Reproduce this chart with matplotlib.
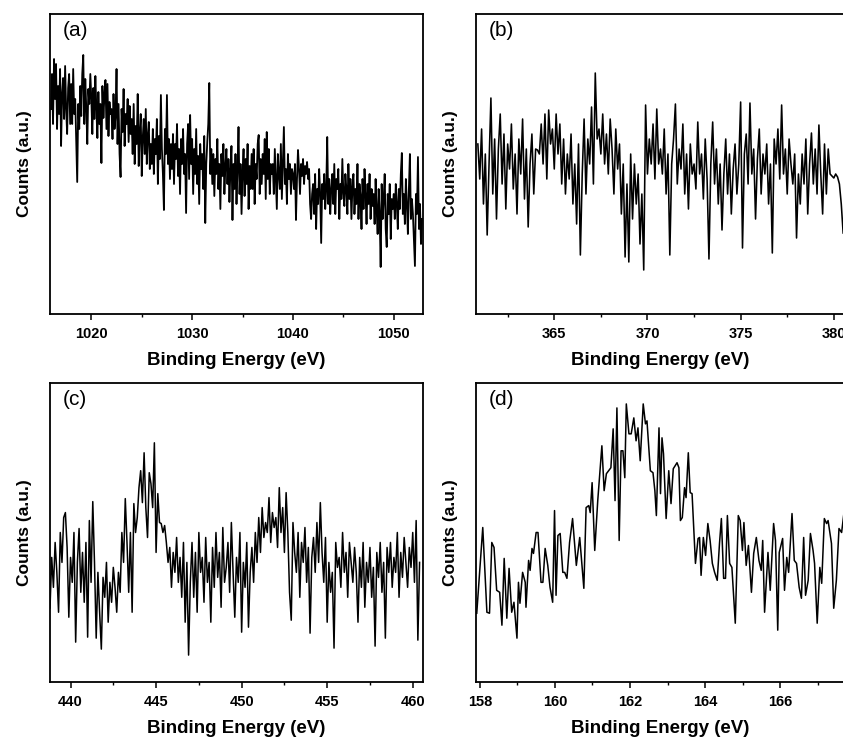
import numpy as np
import matplotlib
matplotlib.use('Agg')
import matplotlib.pyplot as plt
from matplotlib.ticker import MultipleLocator

plt.rcParams['font.family'] = ['Liberation Sans', 'DejaVu Sans']

# (a) 1016.0 -> 1052.8 eV, step 0.1
a_start, a_step = 1016.0, 0.1
a_counts = [
    205, 240, 190, 255, 215, 250, 185, 228, 200, 245, 168, 220, 236, 195, 248, 205, 180, 226, 240, 190,
    230, 190, 245, 200, 215, 175, 132, 210, 185, 228, 198, 240, 259, 190, 235, 205, 170, 225, 210, 240,
    215, 180, 226, 195, 238, 205, 176, 222, 190, 210, 151, 228, 196, 218, 234, 185, 230, 178, 212, 200,
    205, 175, 220, 185, 198, 245, 170, 210, 160, 137, 205, 182, 225, 168, 200, 190, 215, 172, 208, 180,
    195, 160, 210, 150, 188, 170, 220, 148, 182, 200, 138, 176, 195, 160, 205, 150, 178, 192, 145, 170,
    150, 185, 140, 175, 160, 195, 130, 178, 155, 219, 165, 140, 104, 185, 160, 219, 150, 175, 135, 170,
    145, 180, 130, 170, 155, 190, 138, 165, 120, 175, 150, 185, 140, 160, 101, 170, 190, 135, 199, 150,
    175, 120, 165, 140, 185, 130, 158, 110, 170, 145, 160, 125, 178, 91, 150, 172, 190, 231, 140, 165,
    130, 160, 118, 155, 140, 175, 125, 150, 105, 160, 138, 170, 120, 148, 165, 130, 155, 112, 145, 168,
    94, 150, 125, 160, 110, 145, 187, 120, 150, 100, 140, 165, 118, 155, 130, 170, 105, 148, 125, 160,
    125, 165, 110, 150, 135, 170, 179, 120, 155, 130, 160, 140, 175, 115, 182, 135, 165, 120, 150, 140,
    150, 120, 165, 135, 105, 160, 140, 125, 170, 115, 150, 187, 130, 145, 110, 160, 135, 150, 120, 145,
    140, 125, 150, 94, 135, 164, 145, 120, 150, 138, 155, 130, 148, 140, 152, 135, 145, 110, 95, 120,
    130, 100, 140, 85, 125, 110, 145, 120, 71, 130, 115, 140, 105, 125, 177, 110, 135, 100, 125, 140,
    110, 150, 100, 135, 125, 145, 95, 130, 115, 155, 120, 108, 140, 125, 100, 150, 115, 135, 95, 128,
    140, 100, 125, 110, 150, 95, 130, 118, 85, 135, 105, 145, 120, 90, 130, 110, 140, 95, 125, 108,
    120, 90, 135, 105, 80, 125, 100, 47, 130, 95, 115, 140, 85, 67, 120, 100, 130, 75, 115, 105,
    120, 95, 130, 110, 85, 125, 105, 140, 161, 100, 120, 90, 135, 110, 80, 125, 160, 95, 115, 100,
    75, 48, 120, 100, 157, 85, 110, 70, 95,
]

# (b) 360.9 -> 380.5 eV, step 0.1
b_start, b_step = 360.9, 0.1
b_counts = [
    170, 135, 185, 110, 160, 79, 150, 216, 120, 175, 95, 165, 200, 130, 180, 105, 170, 145, 190, 125,
    160, 100, 175, 140, 195, 115, 165, 87, 150, 180, 120, 165, 164, 160, 190, 150, 200, 135, 204, 170,
    185, 145, 200, 160, 190, 130, 175, 120, 160, 135, 180, 110, 150, 90, 170, 59, 140, 195, 120, 175,
    150, 207, 130, 241, 175, 185, 160, 200, 150, 180, 140, 195, 165, 120, 185, 145, 170, 100, 150, 57,
    130, 52, 160, 95, 150, 110, 140, 70, 120, 44, 209, 140, 175, 150, 190, 135, 205, 150, 165, 140,
    185, 120, 160, 59, 150, 175, 210, 130, 165, 145, 190, 120, 160, 105, 170, 140, 150, 125, 192, 140,
    160, 115, 175, 135, 55, 150, 192, 130, 165, 110, 150, 84, 140, 175, 120, 160, 100, 145, 170, 120,
    150, 212, 66, 160, 180, 130, 211, 140, 165, 95, 155, 185, 120, 160, 140, 170, 110, 150, 61, 175,
    150, 185, 135, 209, 140, 165, 120, 175, 150, 130, 160, 76, 140, 110, 160, 130, 175, 100, 150, 181,
    130, 165, 120, 189, 140, 100, 170, 120, 165, 140, 138, 136, 140, 137, 130, 110, 81,
]

# (c) 438.7 -> 460.4 eV, step 0.1
c_start, c_step = 438.7, 0.1
c_counts = [
    155, 74, 125, 95, 140, 110, 70, 150, 120, 165, 170, 135, 65, 125, 100, 150, 40, 120, 154, 90,
    130, 80, 140, 45, 162, 100, 181, 120, 44, 110, 70, 33, 105, 85, 120, 60, 100, 80, 115, 95,
    70, 110, 90, 150, 120, 184, 140, 90, 150, 70, 179, 150, 165, 195, 212, 180, 230, 175, 145, 210,
    199, 175, 240, 130, 189, 160, 159, 150, 157, 140, 120, 135, 95, 130, 110, 145, 100, 125, 85, 140,
    60, 120, 27, 100, 140, 85, 130, 70, 150, 110, 125, 80, 145, 100, 120, 60, 135, 95, 150, 105,
    130, 75, 155, 100, 115, 140, 90, 160, 110, 65, 125, 100, 150, 50, 120, 95, 140, 55, 110, 135,
    100, 150, 120, 165, 130, 175, 145, 160, 150, 185, 140, 170, 155, 165, 135, 195, 150, 175, 130, 190,
    150, 90, 62, 160, 130, 110, 150, 85, 140, 120, 155, 100, 135, 49, 125, 145, 110, 160, 120, 180,
    130, 100, 145, 60, 120, 90, 110, 34, 140, 115, 125, 95, 150, 110, 130, 85, 140, 120, 100, 135,
    110, 60, 125, 95, 140, 75, 120, 100, 135, 85, 115, 36, 130, 105, 140, 90, 120, 44, 135, 110,
    140, 95, 125, 110, 150, 85, 130, 105, 145, 120, 95, 135, 115, 150, 100, 162, 42, 120,
]

# (d) read point by point
d_energy = [
    157.92, 158.08, 158.19, 158.26, 158.32, 158.38, 158.45, 158.53, 158.59, 158.65,
    158.72, 158.78, 158.85, 158.91, 158.99, 159.03, 159.07, 159.14, 159.21, 159.23,
    159.30, 159.34, 159.39, 159.43, 159.50, 159.55, 159.63, 159.68, 159.74, 159.81,
    159.87, 159.94, 159.99, 160.03, 160.08, 160.14, 160.21, 160.26, 160.32, 160.39,
    160.47, 160.57, 160.66, 160.77, 160.83, 160.90, 160.94, 160.99, 161.06, 161.14,
    161.25, 161.31, 161.37, 161.43, 161.49, 161.55, 161.60, 161.65, 161.71, 161.76,
    161.81, 161.86, 161.90, 161.97, 162.03, 162.10, 162.16, 162.21, 162.27, 162.35,
    162.41, 162.45, 162.54, 162.61, 162.66, 162.70, 162.77, 162.81, 162.85, 162.89,
    162.96, 163.03, 163.09, 163.15, 163.25, 163.30, 163.34, 163.39, 163.45, 163.49,
    163.55, 163.60, 163.65, 163.74, 163.81, 163.85, 163.89, 163.95, 164.01, 164.07,
    164.13, 164.19, 164.25, 164.32, 164.38, 164.43, 164.49, 164.54, 164.59, 164.65,
    164.71, 164.80, 164.88, 164.93, 164.99, 165.03, 165.09, 165.15, 165.23, 165.29,
    165.36, 165.43, 165.49, 165.53, 165.58, 165.67, 165.73, 165.82, 165.87, 165.93,
    165.97, 166.06, 166.11, 166.17, 166.22, 166.31, 166.37, 166.43, 166.50, 166.56,
    166.62, 166.67, 166.74, 166.80, 166.87, 166.91, 166.98, 167.05, 167.10, 167.17,
    167.23, 167.27, 167.36, 167.42, 167.49, 167.56, 167.63, 167.69,
]
d_counts = [
    69, 155, 70, 69, 140, 135, 92, 90, 57, 124,
    64, 114, 70, 80, 44, 100, 79, 110, 100, 75,
    122, 112, 134, 129, 150, 150, 100, 100, 134, 117,
    95, 80, 172, 87, 147, 149, 110, 110, 104, 140,
    164, 117, 145, 94, 175, 177, 170, 200, 132, 182,
    237, 192, 209, 212, 215, 254, 182, 275, 142, 232,
    232, 205, 279, 249, 249, 265, 242, 255, 222, 279,
    259, 262, 212, 210, 192, 167, 255, 189, 245, 229,
    164, 212, 179, 214, 220, 215, 162, 165, 195, 185,
    230, 190, 189, 119, 144, 145, 107, 145, 127, 159,
    142, 119, 110, 102, 139, 164, 104, 104, 167, 119,
    115, 59, 167, 162, 132, 160, 117, 137, 90, 129,
    145, 122, 112, 142, 70, 130, 92, 159, 142, 52,
    130, 144, 92, 125, 110, 169, 122, 119, 95, 84,
    145, 87, 102, 149, 132, 119, 59, 115, 99, 164,
    159, 162, 139, 74, 102, 154, 150, 169,
]

xlims = [(1015.9, 1052.9), (360.8, 380.6), (438.8, 460.6), (157.9, 167.72)]
majors = [10, 5, 5, 2]
panel_tags = ['(a)', '(b)', '(c)', '(d)']

W, H = 843, 738
fig = plt.figure(figsize=(W / 100, H / 100), dpi=100)
boxes = [(50, 14, 423, 314), (476, 14, 845, 314), (50, 383, 423, 682), (476, 383, 845, 682)]

series = [
    (a_start + a_step * np.arange(len(a_counts)), a_counts),
    (b_start + b_step * np.arange(len(b_counts)), b_counts),
    (c_start + c_step * np.arange(len(c_counts)), c_counts),
    (np.array(d_energy), d_counts),
]
widths = [1.3, 1.15, 1.1, 1.1]

for i, (x0, y0, x1, y1) in enumerate(boxes):
    ax = fig.add_axes([x0 / W, 1 - y1 / H, (x1 - x0) / W, (y1 - y0) / H])
    x, y = series[i]
    ax.plot(x, y, color='black', lw=widths[i])
    ax.set_xlim(*xlims[i])
    ax.set_ylim(0, 300)
    ax.set_yticks([])
    ax.xaxis.set_major_locator(MultipleLocator(majors[i]))
    ax.xaxis.set_minor_locator(MultipleLocator(majors[i] / 2))
    ax.tick_params(axis='x', which='major', direction='out', length=4, width=1.1, pad=5)
    ax.tick_params(axis='x', which='minor', direction='out', length=2.5, width=1.0)
    for lab in ax.get_xticklabels():
        lab.set_fontweight('bold')
        lab.set_fontsize(10.5)
    for s in ax.spines.values():
        s.set_linewidth(1.3)
    ax.set_xlabel('Binding Energy (eV)', fontsize=13.5, fontweight='bold', labelpad=8)
    ax.set_ylabel('Counts (a.u.)', fontsize=12.5, fontweight='bold', labelpad=13)
    ax.text(0.035, 0.975, panel_tags[i], transform=ax.transAxes, fontsize=15,
            va='top', ha='left')

fig.savefig('out.png', dpi=100)
